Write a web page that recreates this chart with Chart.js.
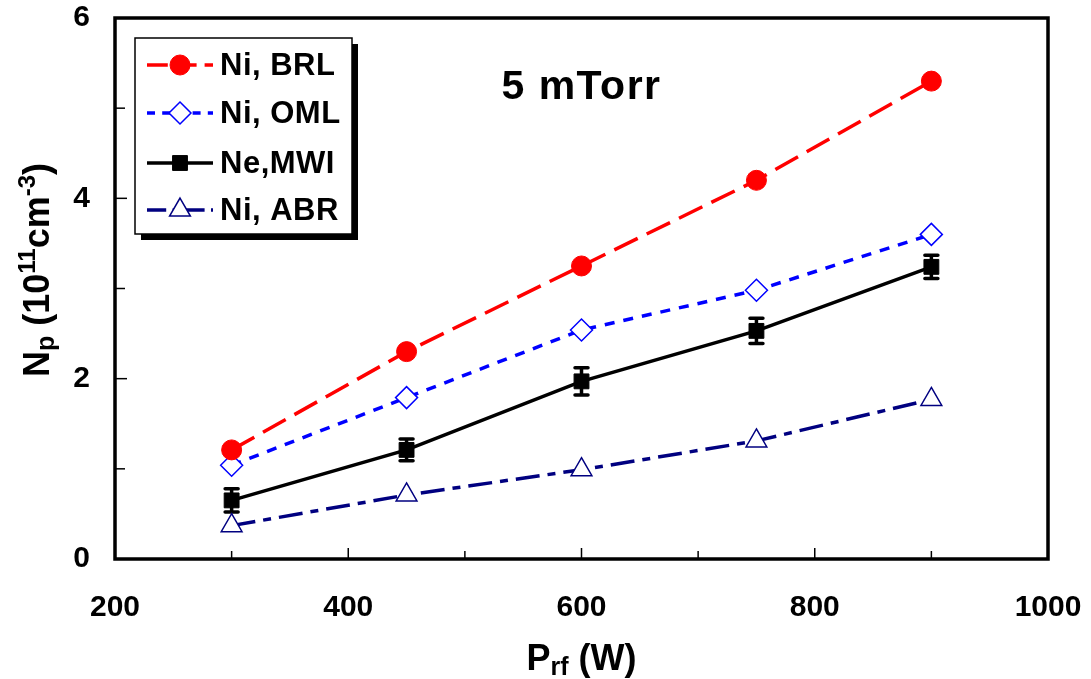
<!DOCTYPE html>
<html>
<head>
<meta charset="utf-8">
<script src="https://cdn.jsdelivr.net/npm/chart.js@4/dist/chart.umd.min.js"></script>
<style>
  html, body { margin: 0; padding: 0; background: #fff; }
  #wrap { width: 1091px; height: 679px; position: relative; }
</style>
</head>
<body>
<div id="wrap"><canvas id="chart"></canvas></div>
<script>
// power (W)
const power = [300, 450, 600, 750, 900];
// densities, 10^11 cm^-3
const niBRL = [1.21, 2.30, 3.25, 4.20, 5.30];
const niOML = [1.04, 1.79, 2.54, 2.98, 3.60];
const neMWI = [0.65, 1.21, 1.97, 2.53, 3.24];
const neMWIerr = [0.13, 0.12, 0.15, 0.14, 0.13];
const niABR = [0.37, 0.71, 0.99, 1.31, 1.77];

const xTicks = [200, 400, 600, 800, 1000];
const yTicks = [0, 2, 4, 6];
const pressureLabel = "5 mTorr";

const FONT = '"Liberation Sans", Arial, sans-serif';

const series = [
  { label: "Ni, BRL", data: niBRL, color: "#ff0000", dash: [26, 10], style: "circle", radius: 10, fill: "#ff0000", bw: 1 },
  { label: "Ni, OML", data: niOML, color: "#0000ff", dash: [10, 9], style: "rectRot", radius: 11, fill: "#ffffff", bw: 1.5 },
  { label: "Ne,MWI", data: neMWI, color: "#000000", dash: [], style: "rect", radius: 10.5, fill: "#000000", bw: 1 },
  { label: "Ni, ABR", data: niABR, color: "#000080", dash: [24, 8, 8, 8], style: "triangle", radius: 12, fill: "#ffffff", bw: 1.5 }
];

function marker(ctx, style, r, x, y) {
  ctx.beginPath();
  if (style === "circle") {
    ctx.arc(x, y, r, 0, Math.PI * 2);
  } else if (style === "rect") {
    const s = r / Math.SQRT2;
    ctx.rect(x - s, y - s, 2 * s, 2 * s);
  } else if (style === "rectRot") {
    ctx.moveTo(x, y - r); ctx.lineTo(x + r, y); ctx.lineTo(x, y + r); ctx.lineTo(x - r, y); ctx.closePath();
  } else if (style === "triangle") {
    ctx.moveTo(x, y - r);
    ctx.lineTo(x + r * Math.cos(Math.PI / 6), y + r / 2);
    ctx.lineTo(x - r * Math.cos(Math.PI / 6), y + r / 2);
    ctx.closePath();
  }
  ctx.fill();
  ctx.stroke();
}

// draws pieces [text, size, baselineShift] in a row, centered on cx
function richText(ctx, parts, cx, cy) {
  let total = 0;
  parts.forEach(p => { ctx.font = "bold " + p[1] + "px " + FONT; total += ctx.measureText(p[0]).width; });
  let x = cx - total / 2;
  ctx.textAlign = "left";
  ctx.textBaseline = "alphabetic";
  parts.forEach(p => {
    ctx.font = "bold " + p[1] + "px " + FONT;
    ctx.fillText(p[0], x, cy + p[2]);
    x += ctx.measureText(p[0]).width;
  });
}

const decor = {
  id: "decor",
  beforeDatasetsDraw(chart) {
    const { ctx, chartArea: a, scales: { x, y } } = chart;
    ctx.save();
    ctx.strokeStyle = "#000";
    // tick marks, pointing inwards
    ctx.lineWidth = 1.5;
    for (let v = 300; v < 1000; v += 100) {
      const px = x.getPixelForValue(v);
      const len = v % 200 === 0 ? 11 : 8;
      ctx.beginPath(); ctx.moveTo(px, a.bottom); ctx.lineTo(px, a.bottom - len); ctx.stroke();
    }
    for (let v = 1; v < 6; v++) {
      const py = y.getPixelForValue(v);
      const len = v % 2 === 0 ? 12 : 10;
      ctx.beginPath(); ctx.moveTo(a.left, py); ctx.lineTo(a.left + len, py); ctx.stroke();
    }
    // frame
    ctx.lineWidth = 3.5;
    ctx.strokeRect(a.left, a.top, a.right - a.left, a.bottom - a.top);

    // error bars on Ne,MWI
    ctx.lineWidth = 3.5;
    ctx.lineCap = "round";
    power.forEach((p, i) => {
      const px = x.getPixelForValue(p);
      const top = y.getPixelForValue(neMWI[i] + neMWIerr[i]);
      const bot = y.getPixelForValue(neMWI[i] - neMWIerr[i]);
      ctx.beginPath();
      ctx.moveTo(px, top); ctx.lineTo(px, bot);
      ctx.moveTo(px - 6.5, top); ctx.lineTo(px + 6.5, top);
      ctx.moveTo(px - 6.5, bot); ctx.lineTo(px + 6.5, bot);
      ctx.stroke();
    });
    ctx.restore();
  },
  afterDraw(chart) {
    const { ctx, chartArea: a } = chart;
    ctx.save();

    // legend box with shadow
    const lx = 135, ly = 38, lw = 217, lh = 196;
    ctx.fillStyle = "#000";
    ctx.fillRect(lx + 6, ly + 6, lw, lh);
    ctx.fillStyle = "#fff";
    ctx.fillRect(lx, ly, lw, lh);
    ctx.strokeStyle = "#000";
    ctx.lineWidth = 1.5;
    ctx.strokeRect(lx, ly, lw, lh);

    const rows = [65, 113, 163, 210];
    series.forEach((s, i) => {
      const ry = rows[i];
      ctx.strokeStyle = s.color;
      ctx.lineWidth = 3.5;
      ctx.setLineDash(s.dash.length ? s.dash.map(d => d * 0.8) : []);
      ctx.beginPath(); ctx.moveTo(147, ry); ctx.lineTo(213, ry); ctx.stroke();
      ctx.setLineDash([]);
      ctx.lineWidth = s.bw;
      ctx.fillStyle = s.fill;
      marker(ctx, s.style, s.radius, 180, ry);
      ctx.fillStyle = "#000";
      ctx.font = "bold 31px " + FONT;
      ctx.letterSpacing = "0.5px";
      ctx.textAlign = "left";
      ctx.textBaseline = "middle";
      ctx.fillText(s.label, 220, ry + 1);
      ctx.letterSpacing = "0px";
    });

    // annotation
    ctx.fillStyle = "#000";
    ctx.font = "bold 41px " + FONT;
    ctx.letterSpacing = "1.5px";
    ctx.textAlign = "center";
    ctx.textBaseline = "alphabetic";
    ctx.fillText(pressureLabel, (a.left + a.right) / 2, 99);
    ctx.letterSpacing = "0px";

    // x title
    richText(ctx, [["P", 36, 0], ["rf", 25, 5], [" (W)", 36, 0]], (a.left + a.right) / 2, 670);

    // y title
    ctx.save();
    ctx.translate(49, 270);
    ctx.rotate(-Math.PI / 2);
    richText(ctx, [["N", 36, 0], ["p", 25, 5], [" (10", 36, 0], ["11", 24, -14], ["cm", 36, 0], ["-3", 24, -14], [")", 36, 0]], 0, 0);
    ctx.restore();

    ctx.restore();
  }
};

function noOverflow(s) {
  s.paddingLeft = 0; s.paddingRight = 0; s.paddingTop = 0; s.paddingBottom = 0;
}

new Chart(document.getElementById("chart"), {
  type: "line",
  data: {
    datasets: series.map(s => ({
      label: s.label,
      data: power.map((p, i) => ({ x: p, y: s.data[i] })),
      borderColor: s.color,
      borderWidth: 3.5,
      borderDash: s.dash,
      tension: 0,
      fill: false,
      pointStyle: s.style,
      pointRadius: s.radius,
      pointHoverRadius: s.radius,
      pointBackgroundColor: s.fill,
      pointBorderColor: s.color,
      pointBorderWidth: s.bw
    }))
  },
  options: {
    responsive: true,
    maintainAspectRatio: false,
    animation: false,
    layout: { padding: { top: 18, right: 43, left: 0, bottom: 0 } },
    plugins: { legend: { display: false }, tooltip: { enabled: false } },
    scales: {
      x: {
        type: "linear",
        min: 200,
        max: 1000,
        afterFit: s => { s.height = 120; noOverflow(s); },
        afterBuildTicks: s => { s.ticks = xTicks.map(v => ({ value: v })); },
        grid: { display: false, drawTicks: false },
        border: { display: false },
        ticks: { padding: 31, color: "#000", font: { family: FONT, size: 30, weight: "bold" }, maxRotation: 0, callback: v => String(v) }
      },
      y: {
        type: "linear",
        min: 0,
        max: 6,
        afterFit: s => { s.width = 115; noOverflow(s); },
        afterBuildTicks: s => { s.ticks = yTicks.map(v => ({ value: v })); },
        grid: { display: false, drawTicks: false },
        border: { display: false },
        ticks: { padding: 25, color: "#000", font: { family: FONT, size: 30, weight: "bold" }, callback: v => String(v) }
      }
    }
  },
  plugins: [decor]
});
</script>
</body>
</html>
